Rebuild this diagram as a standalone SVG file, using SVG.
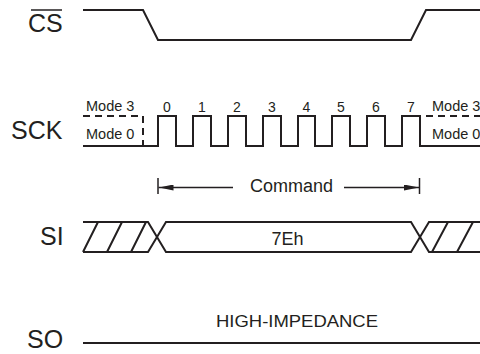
<svg xmlns="http://www.w3.org/2000/svg" width="480" height="354" viewBox="0 0 480 354">
<style>
.w{fill:none;stroke:#231f20;stroke-width:2;stroke-linejoin:miter}
.d{fill:none;stroke:#231f20;stroke-width:2;stroke-dasharray:7 5}
.t{fill:#231f20;font-family:"Liberation Sans",Arial,sans-serif}
.lb{font-size:25px}
.sm{font-size:14.5px}
.nm{font-size:14px;text-anchor:middle}
.md{font-size:18px}
.th{fill:none;stroke:#231f20;stroke-width:1.5}
</style>
<defs>
<marker id="ah" viewBox="0 0 15 6" refX="15" refY="3" markerWidth="15" markerHeight="6" markerUnits="userSpaceOnUse" orient="auto">
<path d="M0,0 L15,3 L0,6 Z" fill="#231f20"/>
</marker>
</defs>
<rect width="480" height="354" fill="#fff"/>
<g id="cs">
<text class="t lb" x="28" y="32">CS</text>
<line class="th" x1="31" y1="10" x2="62" y2="10"/>
<path class="w" d="M83,10 H143 L158,40 H411 L426,10 H480"/>
</g>
<g id="sck">
<text class="t lb" x="11" y="139">SCK</text>
<text class="t sm" x="86" y="111">Mode 3</text>
<text class="t sm" x="86" y="139">Mode 0</text>
<text class="t sm" x="432" y="111">Mode 3</text>
<text class="t sm" x="432" y="139">Mode 0</text>
<path class="d" d="M83,116 H143 V146"/>
<path class="d" d="M426,116 H480"/>
<path class="w" d="M83,146 H158 V116 H176 V146 H193 V116 H211 V146 H228 V116 H246 V146 H263 V116 H281 V146 H298 V116 H315 V146 H332 V116 H350 V146 H367 V116 H385 V146 H402 V116 H420 V146 H480"/>
<text class="t nm" x="167" y="112">0</text>
<text class="t nm" x="202" y="112">1</text>
<text class="t nm" x="237" y="112">2</text>
<text class="t nm" x="272" y="112">3</text>
<text class="t nm" x="306.5" y="112">4</text>
<text class="t nm" x="341" y="112">5</text>
<text class="t nm" x="376" y="112">6</text>
<text class="t nm" x="411" y="112">7</text>
</g>
<g id="connectors">
<line class="th" x1="158" y1="178" x2="158" y2="194"/>
<line class="th" x1="419.5" y1="178" x2="419.5" y2="194"/>
<line class="th" x1="233" y1="187.5" x2="158.5" y2="187.5" marker-end="url(#ah)"/>
<line class="th" x1="344" y1="187.5" x2="419" y2="187.5" marker-end="url(#ah)"/>
<text class="t md" x="291.5" y="192" text-anchor="middle">Command</text>
</g>
<g id="si">
<text class="t lb" x="40" y="245">SI</text>
<path class="w" d="M83,222 H148 L166,252 H411 L429,222 H480"/>
<path class="w" d="M83,252 H148 L166,222 H411 L429,252 H480"/>
<path class="w" d="M83,252 L98,222 M107,252 L122,222 M131,252 L146,222 M432,252 L448,222 M457,252 L473,222"/>
<text class="t md" x="287.5" y="245" text-anchor="middle">7Eh</text>
</g>
<g id="so">
<text class="t lb" x="27" y="348">SO</text>
<path class="w" d="M83,343 H480"/>
<text class="t" x="297" y="327" font-size="17" text-anchor="middle" textLength="162" lengthAdjust="spacingAndGlyphs">HIGH-IMPEDANCE</text>
</g>
</svg>
